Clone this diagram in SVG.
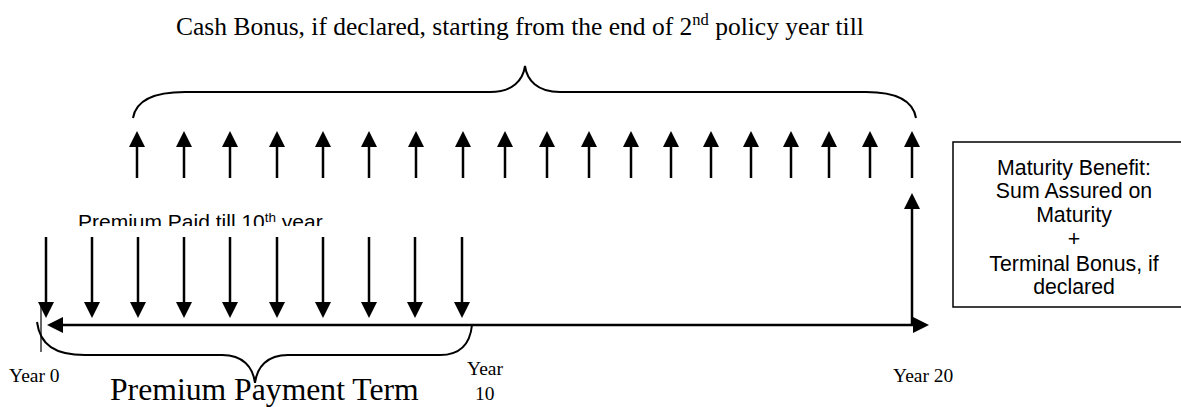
<svg xmlns="http://www.w3.org/2000/svg" width="1181" height="407" viewBox="0 0 1181 407">
<defs>
<style>
.serif{font-family:"Liberation Serif","Times New Roman",serif;fill:#000}
.sans{font-family:"Liberation Sans",Arial,sans-serif;fill:#000}
.ln{stroke:#000;stroke-width:2.5;fill:none}
.br{stroke:#000;stroke-width:2;fill:none}
.head{fill:#000}
</style>
<clipPath id="clipPaid"><rect x="0" y="190" width="400" height="36"/></clipPath>
<polygon id="up" points="0,0 -8,16 8,16" class="head"/>
<polygon id="down" points="0,0 -8,-16 8,-16" class="head"/>
</defs>
<rect width="1181" height="407" fill="#fff"/>

<text class="serif" x="176" y="35" font-size="25.5">Cash Bonus, if declared, starting from the end of 2<tspan font-size="16.5" dy="-10">nd</tspan><tspan dy="10"> policy year till</tspan></text>

<g id="connectors">
<path id="top-brace" class="br" d="M133 118 C136 100 155 92 185 92 L490 92 C513 92 523 80 525 66 C527 80 537 92 560 92 L866 92 C896 92 913 100 916 118"/>
<path id="bottom-brace" class="br" d="M37 322 C40 345 55 355 85 355 L222 355 C243 355 253 367 255 383 C257 367 267 355 288 355 L440 355 C460 355 470 345 472 325"/>
<line id="axis" class="ln" x1="60" y1="325" x2="914" y2="325"/>
<polygon class="head" points="47,325 63,317 63,333"/>
<polygon class="head" points="929,325 913,317 913,333"/>
<line x1="41" y1="306" x2="41" y2="352" stroke="#000" stroke-width="1.2"/>
<g id="down-arrows">
<line class="ln" x1="46" y1="237" x2="46" y2="304"/><use href="#down" x="46" y="318"/>
<line class="ln" x1="92" y1="237" x2="92" y2="304"/><use href="#down" x="92" y="318"/>
<line class="ln" x1="138" y1="237" x2="138" y2="304"/><use href="#down" x="138" y="318"/>
<line class="ln" x1="184" y1="237" x2="184" y2="304"/><use href="#down" x="184" y="318"/>
<line class="ln" x1="230" y1="237" x2="230" y2="304"/><use href="#down" x="230" y="318"/>
<line class="ln" x1="277" y1="237" x2="277" y2="304"/><use href="#down" x="277" y="318"/>
<line class="ln" x1="323" y1="237" x2="323" y2="304"/><use href="#down" x="323" y="318"/>
<line class="ln" x1="369" y1="237" x2="369" y2="304"/><use href="#down" x="369" y="318"/>
<line class="ln" x1="415" y1="237" x2="415" y2="304"/><use href="#down" x="415" y="318"/>
<line class="ln" x1="462" y1="237" x2="462" y2="304"/><use href="#down" x="462" y="318"/>
</g>
<g id="up-arrows">
<line class="ln" x1="137" y1="145" x2="137" y2="178"/><use href="#up" x="137" y="131"/>
<line class="ln" x1="184" y1="145" x2="184" y2="178"/><use href="#up" x="184" y="131"/>
<line class="ln" x1="230" y1="145" x2="230" y2="178"/><use href="#up" x="230" y="131"/>
<line class="ln" x1="277" y1="145" x2="277" y2="178"/><use href="#up" x="277" y="131"/>
<line class="ln" x1="323" y1="145" x2="323" y2="178"/><use href="#up" x="323" y="131"/>
<line class="ln" x1="369" y1="145" x2="369" y2="178"/><use href="#up" x="369" y="131"/>
<line class="ln" x1="416" y1="145" x2="416" y2="178"/><use href="#up" x="416" y="131"/>
<line class="ln" x1="463" y1="145" x2="463" y2="178"/><use href="#up" x="463" y="131"/>
<line class="ln" x1="505" y1="145" x2="505" y2="178"/><use href="#up" x="505" y="131"/>
<line class="ln" x1="547" y1="145" x2="547" y2="178"/><use href="#up" x="547" y="131"/>
<line class="ln" x1="589" y1="145" x2="589" y2="178"/><use href="#up" x="589" y="131"/>
<line class="ln" x1="631" y1="145" x2="631" y2="178"/><use href="#up" x="631" y="131"/>
<line class="ln" x1="671" y1="145" x2="671" y2="178"/><use href="#up" x="671" y="131"/>
<line class="ln" x1="711" y1="145" x2="711" y2="178"/><use href="#up" x="711" y="131"/>
<line class="ln" x1="751" y1="145" x2="751" y2="178"/><use href="#up" x="751" y="131"/>
<line class="ln" x1="791" y1="145" x2="791" y2="178"/><use href="#up" x="791" y="131"/>
<line class="ln" x1="829" y1="145" x2="829" y2="178"/><use href="#up" x="829" y="131"/>
<line class="ln" x1="870" y1="145" x2="870" y2="178"/><use href="#up" x="870" y="131"/>
<line class="ln" x1="912" y1="145" x2="912" y2="178"/><use href="#up" x="912" y="131"/>
</g>
<g id="maturity-arrow">
<line class="ln" x1="912" y1="207" x2="912" y2="325"/><use href="#up" x="912" y="193"/>
</g>
</g>

<g id="premium-paid">
<text class="sans" x="78" y="229" font-size="21" clip-path="url(#clipPaid)">Premium Paid till 10<tspan font-size="13.5" dy="-7">th</tspan><tspan dy="7"> year</tspan></text>
</g>

<g id="maturity-box">
<rect x="953" y="142" width="250" height="165" fill="#fff" stroke="#000" stroke-width="1.5"/>
<g class="sans" font-size="21.3" text-anchor="middle">
<text x="1074" y="175">Maturity Benefit:</text>
<text x="1074" y="198">Sum Assured on</text>
<text x="1074" y="222">Maturity</text>
<text x="1074" y="246">+</text>
<text x="1074" y="271">Terminal Bonus, if</text>
<text x="1074" y="294">declared</text>
</g>
</g>

<g id="labels">
<text class="serif" x="9" y="382" font-size="19.5">Year 0</text>
<text class="serif" x="467" y="375" font-size="19.5">Year</text>
<text class="serif" x="475" y="400" font-size="19.5">10</text>
<text class="serif" x="893" y="382" font-size="19.5">Year 20</text>
<text class="serif" x="110" y="400" font-size="31.7">Premium Payment Term</text>
</g>
</svg>
